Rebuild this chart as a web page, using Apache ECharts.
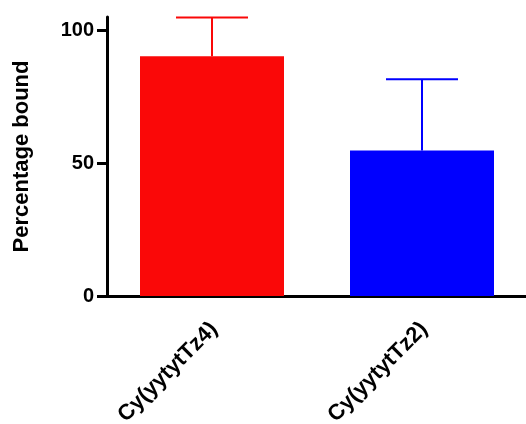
<!DOCTYPE html>
<html><head><meta charset="utf-8">
<script src="https://cdn.jsdelivr.net/npm/echarts@6/dist/echarts.min.js"></script>
<style>html,body{margin:0;padding:0;background:#fff}#c{width:526px;height:424px}</style>
</head><body><div id="c"></div>
<script>
const categories = ['Cy(yytytTz4)', 'Cy(yytytTz2)'];
const means = [90.2, 54.8];
const errors = [14.6, 26.8];
const barColors = ['#FA0808', '#0000FF'];
const yTicks = [0, 50, 100];

const chart = echarts.init(document.getElementById('c'));
const font = 'Liberation Sans, Arial, Helvetica, sans-serif';
chart.setOption({
  animation: false,
  grid: { left: 107, top: 17, width: 420, bottom: 128, containLabel: false, outerBoundsMode: 'none' },
  xAxis: {
    type: 'category', data: categories,
    axisLine: { lineStyle: { color: '#000', width: 3 } },
    axisTick: { alignWithLabel: true, length: 10, lineStyle: { color: '#000', width: 3 } },
    axisLabel: { rotate: 45, margin: 32, padding: [0, -3, 0, 0], color: '#000', fontFamily: font, fontWeight: 'bold', fontSize: 22 }
  },
  yAxis: {
    type: 'value', min: 0, max: 105, interval: 50,
    name: 'Percentage bound', nameLocation: 'middle', nameGap: 74,
    nameTextStyle: { color: '#000', fontFamily: font, fontWeight: 'bold', fontSize: 22 },
    axisLine: { show: true, lineStyle: { color: '#000', width: 3 } },
    axisTick: { show: true, length: 10, customValues: yTicks, lineStyle: { color: '#000', width: 3 } },
    axisLabel: { customValues: yTicks, margin: 13, color: '#000', fontFamily: font, fontWeight: 'bold', fontSize: 20 },
    splitLine: { show: false }
  },
  series: [
    {
      type: 'bar', barWidth: 144,
      data: means.map((v, i) => ({ value: v, itemStyle: { color: barColors[i] } })),
      z: 2
    },
    {
      type: 'custom', z: 3,
      data: means.map((v, i) => [i, v, v + errors[i]]),
      renderItem: function (params, api) {
        const i = api.value(0);
        const p0 = api.coord([i, api.value(1)]);
        const p1 = api.coord([i, api.value(2)]);
        const half = 36;
        const stroke = barColors[i];
        return {
          type: 'group',
          children: [
            { type: 'line', shape: { x1: p0[0], y1: p0[1], x2: p1[0], y2: p1[1] }, style: { stroke: stroke, lineWidth: 2 } },
            { type: 'line', shape: { x1: p1[0] - half, y1: p1[1], x2: p1[0] + half, y2: p1[1] }, style: { stroke: stroke, lineWidth: 2 } }
          ]
        };
      }
    }
  ]
});
</script></body></html>
